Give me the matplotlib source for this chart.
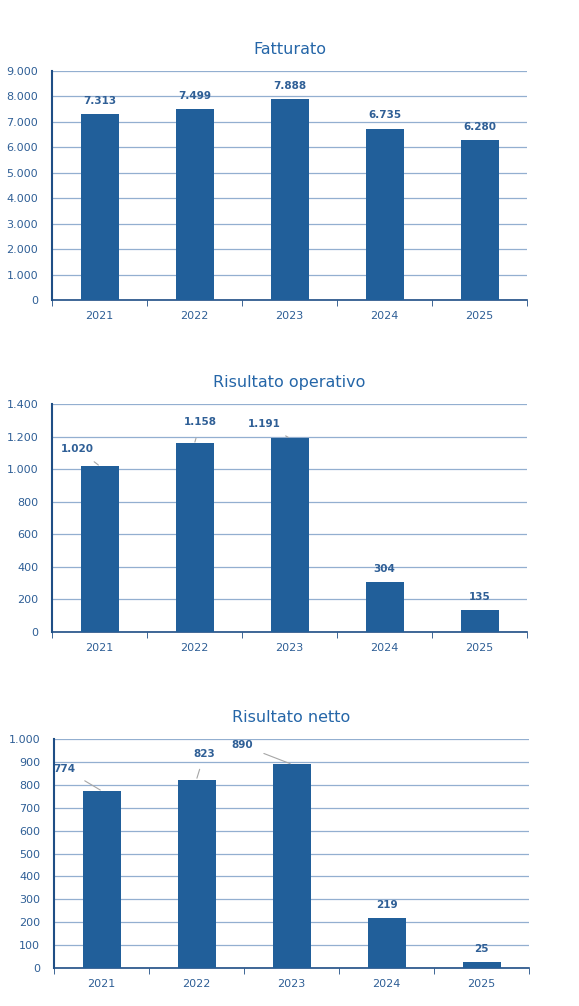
import matplotlib
matplotlib.use("Agg")
import matplotlib.pyplot as plt
import numpy as np

years = ["2021", "2022", "2023", "2024", "2025"]
fatturato = [7313, 7499, 7888, 6735, 6280]
ris_operativo = [1020, 1158, 1191, 304, 135]
ris_netto = [774, 823, 890, 219, 25]
titles = ["Fatturato", "Risultato operativo", "Risultato netto"]

BAR = "#215F9A"
TXT = "#2F5F96"
GRID = "#93AFD0"

def fmt(v):
    return f"{v:,}".replace(",", ".")

fig = plt.figure(figsize=(5.79, 10.06), dpi=100)
W, H = 579, 1006
specs = [
    # left, top, right, bottom px, ymax, step, label offsets (px dx, dy from bar top center; None = above)
    (52, 71, 527, 300, 9000, 1000, [None]*5),
    (52, 404, 527, 632, 1400, 200, [(-22, -17), (6, -21), (-25, -14), None, None]),
    (54, 739, 529, 968, 1000, 100, [(-37, -22), (8, -26), (-49, -19), None, None]),
]
datas = [fatturato, ris_operativo, ris_netto]
for (l, t, r, b, ymax, step, offs), data, title in zip(specs, datas, titles):
    ax = fig.add_axes([l/W, 1-b/H, (r-l)/W, (b-t)/H])
    x = np.arange(len(years))
    ax.bar(x, data, width=0.4, color=BAR, zorder=3)
    ax.set_xlim(-0.5, len(years)-0.5)
    ax.set_ylim(0, ymax)
    ax.set_yticks(np.arange(0, ymax+1, step))
    ax.set_yticklabels([fmt(int(v)) for v in np.arange(0, ymax+1, step)], fontsize=8, color=TXT)
    ax.set_xticks(x)
    ax.set_xticklabels(years, fontsize=8, color=TXT)
    ax.tick_params(axis='x', which='major', length=0, pad=8)
    ax.set_xticks(np.arange(-0.5, len(years)), minor=True)
    ax.tick_params(axis='x', which='minor', length=4, color="#1F4E85")
    ax.tick_params(axis='y', length=0, pad=10)
    ax.grid(axis='y', color=GRID, lw=0.9, zorder=0)
    for s in ["top", "right"]:
        ax.spines[s].set_visible(False)
    ax.spines["left"].set_color("#1F4E85"); ax.spines["left"].set_linewidth(1.5)
    ax.spines["bottom"].set_color("#1F4E85"); ax.spines["bottom"].set_linewidth(1.2)
    ax.set_title(title, fontsize=11.5, color="#2566A8", pad=12)
    for i, v in enumerate(data):
        o = offs[i]
        if o is None:
            ax.annotate(fmt(v), (i, v), xytext=(0, 6), textcoords="offset points",
                        ha="center", va="bottom", fontsize=7.5, fontweight="bold", color=TXT)
        else:
            dx, dy = o
            ax.annotate(fmt(v), (i, v), xytext=(dx*0.72, -dy*0.72), textcoords="offset points",
                        ha="center", va="center", fontsize=7.5, fontweight="bold", color=TXT,
                        arrowprops=dict(arrowstyle="-", color="#A6A6A6", lw=0.8, shrinkA=6, shrinkB=1))

fig.savefig("out.png", dpi=100)
